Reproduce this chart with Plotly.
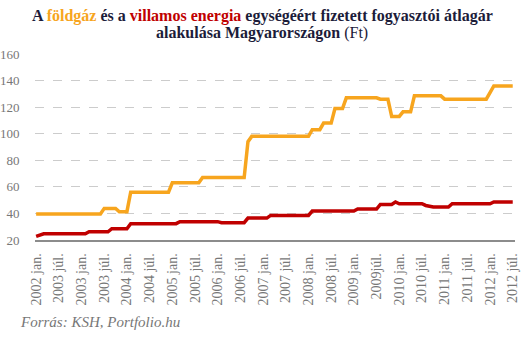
import plotly.graph_objects as go

# Monthly data, 2002 jan. .. 2012 júl. (127 months)
gas = [
    39.5, 39.5, 39.5, 39.5, 39.5, 39.5, 39.5, 39.5, 39.5, 39.5, 39.5, 39.5,  # 2002
    39.5, 39.5, 39.5, 39.5, 39.5, 39.5, 43.8, 43.8, 43.8, 43.8, 41.3, 41.3,  # 2003
    41.3, 56, 56, 56, 56, 56, 56, 56, 56, 56, 56, 56,                        # 2004
    63, 63, 63, 63, 63, 63, 63, 63, 67, 67, 67, 67,                          # 2005
    67, 67, 67, 67, 67, 67, 67, 67, 94, 98, 98, 98,                          # 2006
    98, 98, 98, 98, 98, 98, 98, 98, 98, 98, 98, 98,                          # 2007
    98, 103, 103, 103, 108, 108, 108, 119, 119, 119, 127, 127,              # 2008
    127, 127, 127, 127, 127, 127, 127, 126, 126, 126, 113, 113,             # 2009
    113, 116.5, 116.5, 116.5, 128.5, 128.5, 128.5, 128.5, 128.5, 128.5, 128.5, 128.5,  # 2010
    126, 126, 126, 126, 126, 126, 126, 126, 126, 126, 126, 126,             # 2011
    131, 136, 136, 136, 136, 136, 136,                                       # 2012
]
electricity = [
    22.7, 24, 24.7, 24.7, 24.7, 24.7, 24.7, 24.7, 24.7, 24.7, 24.7, 24.7,   # 2002
    24.7, 24.7, 26.2, 26.2, 26.2, 26.2, 26.2, 26.2, 28.5, 28.5, 28.5, 28.5, # 2003
    28.5, 32.3, 32.3, 32.3, 32.3, 32.3, 32.3, 32.3, 32.3, 32.3, 32.3, 32.3, # 2004
    32.3, 32.3, 33.8, 33.8, 33.8, 33.8, 33.8, 33.8, 33.8, 33.8, 33.8, 33.8, # 2005
    33.8, 33, 33, 33, 33, 33, 33, 33, 36.5, 36.5, 36.5, 36.5,               # 2006
    36.5, 36.5, 38.5, 38.5, 38.5, 38.5, 38.5, 38.5, 38.5, 38.5, 38.5, 38.5, # 2007
    38.5, 41.8, 41.8, 41.8, 41.8, 41.8, 41.8, 41.8, 41.8, 41.8, 41.8, 41.8, # 2008
    41.8, 43.3, 43.3, 43.3, 43.3, 43.3, 43.3, 46.8, 46.8, 46.8, 46.8, 48.6, # 2009
    47.3, 47.3, 47.3, 47.3, 47.3, 47.3, 47.3, 46, 45.3, 44.8, 44.8, 44.8,   # 2010
    44.8, 44.8, 47.3, 47.3, 47.3, 47.3, 47.3, 47.3, 47.3, 47.3, 47.3, 47.3, # 2011
    47.3, 48.6, 48.6, 48.6, 48.6, 48.6, 48.6,                                # 2012
]
tick_labels = ["2002 jan.", "2003 júl.", "2003 jan.", "2003 júl.", "2004 jan.",
               "2004 júl.", "2005 jan.", "2005 júl.", "2006 jan.", "2006 júl.",
               "2007 jan.", "2007 júl.", "2008 jan.", "2008 júl.", "2009 jan.",
               "2009júl.", "2010 jan.", "2010 júl.", "2011 jan.", "2011 júl.",
               "2012 jan.", "2012 júl."]
y_ticks = [20, 40, 60, 80, 100, 120, 140, 160]

months = list(range(len(gas)))
tick_pos = months[::6]

ORANGE = "#F7A51E"
RED = "#C00000"
SERIF = "Liberation Serif, DejaVu Serif, serif"

fig = go.Figure()
fig.add_trace(go.Scatter(x=months, y=gas, mode="lines",
                         line=dict(color=ORANGE, width=3.5), hoverinfo="skip"))
fig.add_trace(go.Scatter(x=months, y=electricity, mode="lines",
                         line=dict(color=RED, width=3.5), hoverinfo="skip"))

W, H = 525, 337
ml, mr, mt, mb = 35, 10, 54, 97
pw, ph = W - ml - mr, H - mt - mb

def py(ypix):
    return (H - mb - ypix) / ph

def px(xpix):
    return (xpix - ml) / pw

title1 = ("<b>A <span style='color:%s'>földgáz</span> és a "
          "<span style='color:%s'>villamos energia</span> egységéért fizetett "
          "fogyasztói átlagár</b>") % (ORANGE, RED)
title2 = "<b>alakulása Magyarországon</b> (Ft)"

fig.update_layout(
    width=W, height=H, showlegend=False,
    margin=dict(l=ml, r=mr, t=mt, b=mb, autoexpand=False),
    paper_bgcolor="white", plot_bgcolor="white",
    xaxis=dict(
        range=[-0.3, 126.6], tickmode="array", tickvals=tick_pos, ticktext=tick_labels,
        tickangle=-90, showgrid=False, zeroline=False, automargin=False,
        showline=True, linecolor="#8c8c8c", linewidth=1.5,
        ticks="outside", ticklen=6, tickcolor="rgba(0,0,0,0)",
        tickfont=dict(family=SERIF, size=14, color="#777777"),
    ),
    yaxis=dict(
        range=[20, 160], tickmode="array", tickvals=y_ticks, automargin=False,
        showgrid=True, gridcolor="#cccccc", griddash="dash", gridwidth=1,
        zeroline=False, ticks="outside", ticklen=12, tickcolor="rgba(0,0,0,0)",
        tickfont=dict(family=SERIF, size=13, color="#777777"),
    ),
    annotations=[
        dict(text=title1, showarrow=False, xref="paper", yref="paper",
             x=px(262), y=py(16), xanchor="center", yanchor="middle",
             font=dict(family=SERIF, size=16, color="#1c1c3a")),
        dict(text=title2, showarrow=False, xref="paper", yref="paper",
             x=px(262), y=py(33), xanchor="center", yanchor="middle",
             font=dict(family=SERIF, size=16, color="#1c1c3a")),
        dict(text="<i>Forrás: KSH, Portfolio.hu</i>", showarrow=False,
             xref="paper", yref="paper", x=px(18), y=py(322),
             xanchor="left", yanchor="middle",
             font=dict(family=SERIF, size=15, color="#777777")),
    ],
)

fig.write_html("out.html")
